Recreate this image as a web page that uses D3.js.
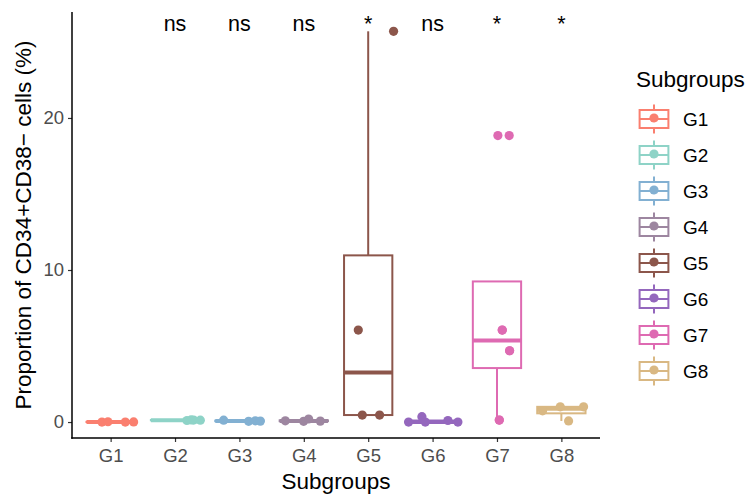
<!DOCTYPE html>
<html>
<head>
<meta charset="utf-8">
<script src="https://cdn.jsdelivr.net/npm/d3@7"></script>
<style>
  body { margin: 0; background: #fff; }
  svg { display: block; font-family: "Liberation Sans", Arial, sans-serif; }
</style>
</head>
<body>
<svg id="chart" width="750" height="500"></svg>
<script>
// Subgroup names and the measured proportions of CD34+CD38- cells (%)
const groups = ["G1", "G2", "G3", "G4", "G5", "G6", "G7", "G8"];
const colors = ["#FA7F6F", "#8ED3C7", "#82B0D2", "#9D86A0", "#8C564B", "#9467BD", "#DE6AB2", "#D9B883"];
const values = [
  [0.00, 0.02, 0.00, 0.01],
  [0.10, 0.13, 0.12, 0.14],
  [0.12, 0.05, 0.08, 0.06],
  [0.08, 0.05, 0.20, 0.06],
  [25.7, 6.05, 0.46, 0.46],
  [0.00, 0.35, 0.00, 0.10, 0.00],
  [18.84, 18.84, 6.05, 6.05, 4.69, 4.69, 0.13, 0.13],
  [0.74, 1.00, 1.00, 0.07]
];
// horizontal jitter of each point, as a fraction of one category step
const jitter = [
  [-0.135, -0.042, 0.228, 0.357],
  [0.185, 0.289, 0.393, 0.250],
  [-0.245, 0.143, 0.247, 0.325],
  [-0.287, -0.003, 0.075, 0.256],
  [0.394, -0.154, -0.092, 0.177],
  [-0.373, -0.166, -0.113, 0.238, 0.393],
  [0.014, 0.190, 0.082, 0.082, 0.196, 0.196, 0.036, 0.036],
  [-0.292, -0.017, 0.345, 0.112]
];
// significance of each subgroup versus the rest
const signif = ["", "ns", "ns", "ns", "*", "ns", "*", "*"];
const yTicks = [0, 10, 20];

const svg = d3.select("#chart");
const panel = { left: 72, right: 600, top: 12, bottom: 438 };

const x = d3.scalePoint().domain(groups)
  .range([panel.left, panel.right]).padding(0.6);
const step = x.step();
const y = d3.scaleLinear().domain([-1.05, 26.97]).range([panel.bottom, panel.top]);

const boxW = step * 0.75;

function stats(vals) {
  const s = vals.slice().sort(d3.ascending);
  const q1 = d3.quantileSorted(s, 0.25), med = d3.quantileSorted(s, 0.5), q3 = d3.quantileSorted(s, 0.75);
  const iqr = q3 - q1;
  const hi = d3.max(s.filter(v => v <= q3 + 1.5 * iqr));
  const lo = d3.min(s.filter(v => v >= q1 - 1.5 * iqr));
  return { q1, med, q3, hi, lo };
}

const plot = svg.append("g");

groups.forEach((g, i) => {
  const st = stats(values[i]);
  const cx = x(g);
  const col = colors[i];
  const gg = plot.append("g");
  // whiskers
  if (st.hi > st.q3) gg.append("line").attr("x1", cx).attr("x2", cx)
    .attr("y1", y(st.q3)).attr("y2", y(st.hi)).attr("stroke", col).attr("stroke-width", 2);
  if (st.lo < st.q1) gg.append("line").attr("x1", cx).attr("x2", cx)
    .attr("y1", y(st.q1)).attr("y2", y(st.lo)).attr("stroke", col).attr("stroke-width", 2);
  // box
  gg.append("rect").attr("x", cx - boxW / 2).attr("width", boxW)
    .attr("y", y(st.q3)).attr("height", Math.max(0, y(st.q1) - y(st.q3)))
    .attr("fill", "#fff").attr("stroke", col).attr("stroke-width", 2);
  // median
  gg.append("line").attr("x1", cx - boxW / 2).attr("x2", cx + boxW / 2)
    .attr("y1", y(st.med)).attr("y2", y(st.med)).attr("stroke", col).attr("stroke-width", 4);
});

// jittered observations
groups.forEach((g, i) => {
  plot.append("g").selectAll("circle").data(values[i]).join("circle")
    .attr("cx", (d, j) => x(g) + jitter[i][j] * step)
    .attr("cy", d => y(d))
    .attr("r", 4.6)
    .attr("fill", colors[i]);
});

// significance labels above the groups
const labelBase = y(d3.max(values.flat()));
svg.append("g").selectAll("text").data(groups).join("text")
  .attr("x", d => x(d))
  .attr("y", labelBase)
  .attr("text-anchor", "middle")
  .attr("font-size", 21.5)
  .attr("fill", "#000")
  .text((d, i) => signif[i]);

// axes
const yAxis = svg.append("g").attr("transform", `translate(${panel.left},0)`)
  .call(d3.axisLeft(y).tickValues(yTicks).tickSize(4).tickPadding(4));
const xAxis = svg.append("g").attr("transform", `translate(0,${panel.bottom})`)
  .call(d3.axisBottom(x).tickSize(4).tickPadding(7));
[yAxis, xAxis].forEach(a => {
  a.select(".domain").remove();
  a.selectAll(".tick line").attr("stroke", "#333").attr("stroke-width", 1.2);
  a.selectAll(".tick text").attr("fill", "#4D4D4D").attr("font-size", 18.5)
    .attr("font-family", "Liberation Sans, Arial, sans-serif");
});
svg.append("line").attr("x1", panel.left).attr("x2", panel.left)
  .attr("y1", panel.top).attr("y2", panel.bottom + 0.75).attr("stroke", "#000").attr("stroke-width", 1.5);
svg.append("line").attr("x1", panel.left - 0.75).attr("x2", panel.right)
  .attr("y1", panel.bottom).attr("y2", panel.bottom).attr("stroke", "#000").attr("stroke-width", 1.5);

// axis titles
svg.append("text").attr("x", (panel.left + panel.right) / 2).attr("y", 489)
  .attr("text-anchor", "middle").attr("font-size", 22.5).text("Subgroups");
svg.append("text")
  .attr("transform", `translate(31,${(panel.top + panel.bottom) / 2}) rotate(-90)`)
  .attr("text-anchor", "middle").attr("font-size", 22.5)
  .text("Proportion of CD34+CD38\u2212 cells (%)");

// legend
const leg = svg.append("g").attr("transform", "translate(636,0)");
leg.append("text").attr("x", 0).attr("y", 87).attr("font-size", 22.5).text("Subgroups");
const keySize = 36;
const rows = leg.selectAll("g.key").data(groups).join("g")
  .attr("class", "key")
  .attr("transform", (d, i) => `translate(0,${101 + i * keySize})`);
rows.each(function (d, i) {
  const k = d3.select(this);
  const col = colors[i];
  const cx = keySize / 2;
  k.append("line").attr("x1", cx).attr("x2", cx).attr("y1", keySize * 0.1).attr("y2", keySize * 0.9)
    .attr("stroke", col).attr("stroke-width", 2);
  k.append("rect").attr("x", keySize * 0.1).attr("width", keySize * 0.8)
    .attr("y", keySize * 0.25).attr("height", keySize * 0.5)
    .attr("fill", "#fff").attr("stroke", col).attr("stroke-width", 2);
  k.append("line").attr("x1", keySize * 0.1).attr("x2", keySize * 0.9)
    .attr("y1", keySize / 2).attr("y2", keySize / 2).attr("stroke", col).attr("stroke-width", 2);
  k.append("circle").attr("cx", cx).attr("cy", keySize / 2 - 1).attr("r", 4.6).attr("fill", col);
  k.append("path")
    .attr("d", `M${cx - 3},${keySize / 2 + 3.5} Q${cx},${keySize / 2 + 6.5} ${cx + 3},${keySize / 2 + 3}`)
    .attr("fill", "none").attr("stroke", "#fff").attr("stroke-width", 1.2);
  k.append("text").attr("x", 47).attr("y", keySize / 2 + 6.5).attr("font-size", 19).attr("fill", "#000").text(d);
});
</script>
</body>
</html>
